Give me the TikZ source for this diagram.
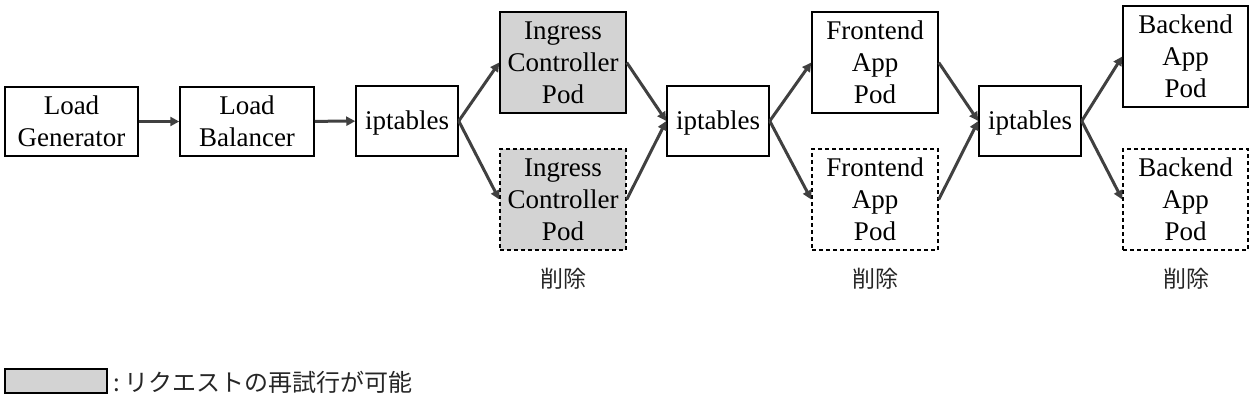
\documentclass[tikz,border=0pt]{standalone}
\usepackage{fontspec}
\setmainfont{Liberation Serif}
\newfontfamily\jpfont{Noto Sans CJK JP}
\usetikzlibrary{arrows.meta}
\definecolor{podgray}{HTML}{D3D3D3}
\definecolor{arrowgray}{HTML}{404040}

\begin{document}
\begin{tikzpicture}[x=0.5pt, y=-0.5pt,
        box/.style={draw, line width=0.75pt, inner sep=0pt, align=center,
            font=\fontsize{13.5}{16}\selectfont},
        gone/.style={dash pattern=on 2pt off 1.5pt},
        retry/.style={fill=podgray},
        flow/.style={draw=arrowgray, line width=1.5pt, -{Triangle[length=4.5pt,width=4.5pt]}},
        note/.style={font=\jpfont\fontsize{11.5}{13}\selectfont, text=black!85}]
        \useasboundingbox (0,0) rectangle (1254,413);
        % boxes
        \node[box, minimum width=66.5pt, minimum height=34.5pt] (gen) at (71.5,121.5) {Load\\Generator};
        \node[box, minimum width=67pt, minimum height=34.5pt] (lb) at (247,121.5) {Load\\Balancer};
        \node[box, minimum width=51pt, minimum height=35pt, text depth=1pt] (ipa) at (407,121) {iptables};
        \node[box, retry, minimum width=63pt, minimum height=50.5pt] (inga) at (563,62.5) {Ingress\\Controller\\Pod};
        \node[box, retry, gone, minimum width=63pt, minimum height=50.5pt] (ingb) at (563,199.5) {Ingress\\Controller\\Pod};
        \node[box, minimum width=51pt, minimum height=35pt, text depth=1pt] (ipb) at (718,121) {iptables};
        \node[box, minimum width=63pt, minimum height=50.5pt] (fea) at (875,62.5) {Frontend\\App\\Pod};
        \node[box, gone, minimum width=63pt, minimum height=50.5pt] (feb) at (875,199.5) {Frontend\\App\\Pod};
        \node[box, minimum width=51pt, minimum height=35pt, text depth=1pt] (ipc) at (1030,121) {iptables};
        \node[box, minimum width=62.5pt, minimum height=50.5pt] (bea) at (1185.5,56.5) {Backend\\App\\Pod};
        \node[box, gone, minimum width=62.5pt, minimum height=50.5pt] (beb) at (1185.5,199.5) {Backend\\App\\Pod};
        % deleted labels
        \node[note] (dela) at (563,279) {削除};
        \node[note] (delb) at (875,279) {削除};
        \node[note] (delc) at (1186,279) {削除};
        % arrows
        \draw[flow] (gen) -- (lb);
        \draw[flow] (lb) -- (ipa);
        \draw[flow] (ipa.east) -- (inga.west);
        \draw[flow] (ipa.east) -- (ingb.west);
        \draw[flow] (inga.east) -- (ipb.west);
        \draw[flow] (ingb.east) -- (ipb.west);
        \draw[flow] (ipb.east) -- (fea.west);
        \draw[flow] (ipb.east) -- (feb.west);
        \draw[flow] (fea.east) -- (ipc.west);
        \draw[flow] (feb.east) -- (ipc.west);
        \draw[flow] (ipc.east) -- (bea.west);
        \draw[flow] (ipc.east) -- (beb.west);
        % legend
        \node[draw, retry, line width=0.75pt, minimum width=51pt, minimum height=12pt, inner sep=0pt] (key) at (56,381) {};
        \node[note, font=\jpfont\fontsize{12}{14}\selectfont, anchor=west, inner sep=0pt] (keytext) at (113,382) {:\,リクエストの再試行が可能};
    \end{tikzpicture}
\end{document}
